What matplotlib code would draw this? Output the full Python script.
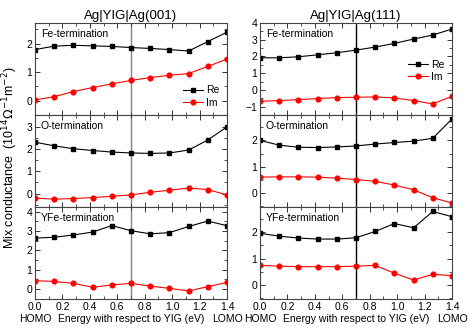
import matplotlib
matplotlib.use('Agg')
from matplotlib import pyplot as plt
from matplotlib.ticker import MultipleLocator

plt.rcParams['font.family'] = ['Liberation Sans', 'DejaVu Sans']

# energy points (eV)
energy = [0.0, 0.14, 0.28, 0.42, 0.56, 0.70, 0.84, 0.98, 1.12, 1.26, 1.40]

# Ag|YIG|Ag(001)
fe001_re = [1.79, 1.91, 1.94, 1.92, 1.90, 1.86, 1.83, 1.79, 1.74, 2.07, 2.40]
fe001_im = [0.03, 0.14, 0.32, 0.46, 0.59, 0.71, 0.81, 0.89, 0.95, 1.20, 1.46]
o001_re = [2.30, 2.14, 2.01, 1.93, 1.86, 1.82, 1.80, 1.82, 1.95, 2.40, 2.99]
o001_im = [-0.20, -0.25, -0.22, -0.18, -0.12, -0.06, 0.06, 0.15, 0.25, 0.18, -0.06]
yfe001_re = [2.64, 2.68, 2.80, 2.95, 3.29, 3.02, 2.86, 2.92, 3.24, 3.52, 3.28]
yfe001_im = [0.43, 0.39, 0.29, 0.09, 0.21, 0.29, 0.15, 0.03, -0.10, 0.12, 0.34]

# Ag|YIG|Ag(111)
fe111_re = [1.92, 1.92, 1.98, 2.10, 2.22, 2.38, 2.56, 2.78, 3.04, 3.28, 3.64]
fe111_im = [-0.68, -0.64, -0.58, -0.52, -0.46, -0.44, -0.42, -0.48, -0.64, -0.84, -0.38]
o111_re = [2.00, 1.82, 1.74, 1.73, 1.75, 1.79, 1.86, 1.92, 1.97, 2.08, 2.81]
o111_im = [0.61, 0.62, 0.62, 0.61, 0.57, 0.52, 0.45, 0.31, 0.13, -0.17, -0.37]
yfe111_re = [1.96, 1.85, 1.78, 1.74, 1.74, 1.79, 2.03, 2.33, 2.17, 2.79, 2.59]
yfe111_im = [0.74, 0.71, 0.69, 0.69, 0.69, 0.71, 0.74, 0.44, 0.18, 0.40, 0.35]

titles = ['Ag|YIG|Ag(001)', 'Ag|YIG|Ag(111)']
term_labels = ['Fe-termination', 'O-termination', 'YFe-termination']

columns = [
    [(fe001_re, fe001_im), (o001_re, o001_im), (yfe001_re, yfe001_im)],
    [(fe111_re, fe111_im), (o111_re, o111_im), (yfe111_re, yfe111_im)],
]
ylims = [
    [(-0.5, 2.72), (-0.6, 3.52), (-0.52, 4.25)],
    [(-1.5, 4.0), (-0.52, 2.96), (-0.54, 2.96)],
]
vline_colors = ['#808080', 'black']

fig = plt.figure(figsize=(4.69, 3.32), dpi=100)

W, H = 469, 332
lefts = [35, 260]
ax_w = 192
top_px = 23
panel_h = 92

for c in range(2):
    for r in range(3):
        y0 = top_px + r * panel_h
        ax = fig.add_axes([lefts[c] / W, 1 - (y0 + panel_h) / H, ax_w / W, panel_h / H])
        re, im = columns[c][r]
        ax.plot(energy, re, color='black', marker='s', markersize=3.2, lw=0.8, label='Re')
        ax.plot(energy, im, color='red', marker='o', markersize=3.4, lw=0.8, label='Im')
        ax.axvline(0.7, color=vline_colors[c], lw=1.0, zorder=0)
        ax.set_xlim(0, 1.4)
        ax.set_ylim(*ylims[c][r])
        ax.xaxis.set_major_locator(MultipleLocator(0.2))
        ax.xaxis.set_minor_locator(MultipleLocator(0.1))
        ax.yaxis.set_major_locator(MultipleLocator(1))
        ax.yaxis.set_minor_locator(MultipleLocator(0.5))
        ax.tick_params(which='both', direction='in', top=True, right=True, labelsize=7.5,
                       pad=2, color='#333333')
        ax.tick_params(which='major', length=3.5, width=0.7)
        ax.tick_params(which='minor', length=2, width=0.6)
        for s in ax.spines.values():
            s.set_linewidth(0.8)
            s.set_color('#444444')
        ax.text(0.03, 0.94, term_labels[r], transform=ax.transAxes, va='top', ha='left',
                fontsize=7.5)
        if r == 0:
            ax.set_title(titles[c], fontsize=9.5, pad=3)
            if c == 0:
                ax.legend(loc='center right', bbox_to_anchor=(1.0, 0.2), frameon=False,
                          fontsize=7.5, handlelength=1.9, handletextpad=0.3,
                          labelspacing=0.25, borderpad=0.2)
            else:
                ax.legend(loc='center right', bbox_to_anchor=(1.0, 0.48), frameon=False,
                          fontsize=7.5, handlelength=1.9, handletextpad=0.3,
                          labelspacing=0.25, borderpad=0.2)
        if r < 2:
            ax.tick_params(labelbottom=False)
        else:
            ax.set_xticks([0.0, 0.2, 0.4, 0.6, 0.8, 1.0, 1.2, 1.4])
            ax.set_xticklabels(['0.0', '0.2', '0.4', '0.6', '0.8', '1.0', '1.2', '1.4'])
            for xv, txt in [(0.0, 'HOMO'), (0.7, 'Energy with respect to YIG (eV)'), (1.4, 'LOMO')]:
                ax.annotate(txt, xy=(xv, 0), xycoords=('data', 'axes fraction'),
                            xytext=(0, -14.5), textcoords='offset points',
                            ha='center', va='center', fontsize=7.5)

fig.text(0.022, 1 - 158 / H, r'Mix conductance  (10$^{14}$$\Omega^{-1}$m$^{-2}$)',
         rotation=90, ha='center', va='center', fontsize=9)

fig.savefig('out.png', dpi=100)
